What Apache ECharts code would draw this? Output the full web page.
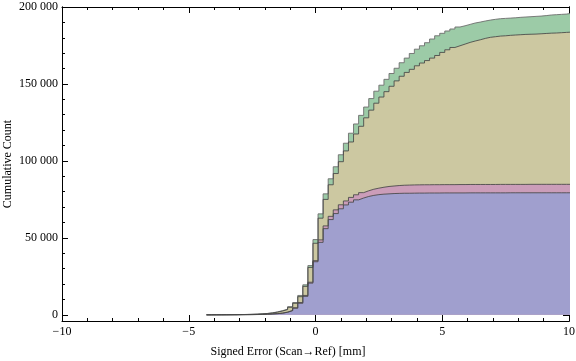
<!DOCTYPE html>
<html>
<head>
<meta charset="utf-8">
<script src="https://cdn.jsdelivr.net/npm/echarts@6/dist/echarts.min.js"></script>
<style>
html,body{margin:0;padding:0;background:#fff;}
#chart{width:576px;height:361px;}
</style>
</head>
<body>
<div id="chart"></div>
<script>
// Left edges of histogram bins (mm), bin width 0.2
var binEdges = [-4.3,-4.1,-3.9,-3.7,-3.5,-3.3,-3.1,-2.9,-2.7,-2.5,-2.3,-2.1,-1.9,-1.7,-1.5,-1.3,-1.1,-0.9,-0.7,-0.5,-0.3,-0.1,0.1,0.3,0.5,0.7,0.9,1.1,1.3,1.5,1.7,1.9,2.1,2.3,2.5,2.7,2.9,3.1,3.3,3.5,3.7,3.9,4.1,4.3,4.5,4.7,4.9,5.1,5.3,5.5,5.7,5.9,6.1,6.3,6.5,6.7,6.9,7.1,7.3,7.5,7.7,7.9,8.1,8.3,8.5,8.7,8.9,9.1,9.3,9.5,9.7,9.9];
var lastEdge = 10.1;

var greenValues = [30,50,70,90,120,150,200,260,350,480,650,900,1300,1900,2700,3700,5300,
  8000,12600,19500,32000,48900,65600,78600,88400,96200,104000,111500,118000,124000,129600,135000,140500,145300,149200,153000,156800,160200,163800,166800,169800,172600,174800,176800,179200,181300,182900,184400,185700,187000,187800,188700,189600,190200,190900,191500,192000,192400,192600,192800,193000,193300,193500,193700,193900,194100,194400,194800,195000,195200,195400,195900];

var oliveValues = [25,45,65,85,110,140,185,240,320,440,600,830,1200,1750,2500,3400,4900,
  7500,11800,18500,30800,46500,62800,75000,84500,91800,99500,106500,112300,117500,122500,128000,133000,137500,141500,145000,148500,152000,155000,157500,159500,161800,163600,165200,166800,168500,170500,172200,173700,174800,175900,177000,177900,178700,179600,180300,180700,181100,181300,181600,181800,182000,182200,182300,182400,182600,182800,183000,183100,183300,183500,183700];

var pinkValues = [10,20,30,40,55,70,95,125,170,230,320,450,620,850,1150,1800,2900,
  4600,8000,12600,21200,35200,48700,57800,64000,68200,71500,74000,76300,78000,79400,80600,81600,82300,82900,83400,83700,84000,84200,84300,84400,84450,84500,84500,84550,84550,84600,84600,84600,84650,84650,84700,84700,84700,84700,84700,84700,84750,84750,84750,84750,84750,84750,84800,84800,84800,84800,84800,84800,84800,84800,84800];

var blueValues = [8,15,25,35,45,60,80,105,140,190,270,380,530,750,1050,1650,2700,
  4300,7500,12000,20600,34500,47100,56000,61900,65800,68900,71400,73200,74700,75900,76900,77600,78100,78400,78600,78800,78900,79000,79000,79050,79100,79100,79150,79150,79150,79200,79200,79200,79200,79200,79250,79250,79250,79250,79250,79250,79250,79250,79300,79300,79300,79300,79300,79300,79300,79300,79300,79300,79300,79300,79300];

var xTicks = [-10,-5,0,5,10];
var yTicks = [0,50000,100000,150000,200000];
var yMinorTicks = [10000,20000,30000,40000,60000,70000,80000,90000,110000,120000,130000,140000,160000,170000,180000,190000];

var xTitle = 'Signed Error (Scan\u2192Ref) [mm]';
var yTitle = 'Cumulative Count';

function stepData(vals){
  var d = [[binEdges[0], 0]];
  for (var i = 0; i < binEdges.length; i++) d.push([binEdges[i], vals[i]]);
  d.push([lastEdge, vals[vals.length-1]]);
  return d;
}

var FONT = 'Liberation Serif';
var chart = echarts.init(document.getElementById('chart'), null, {renderer:'canvas'});

function mkSeries(name, vals, fill, line){
  return {
    name: name, type:'line', step:'end', xAxisIndex:0, yAxisIndex:0,
    data: stepData(vals), symbol:'none', clip:true,
    lineStyle:{color:line, width:1},
    areaStyle:{color:fill, opacity:1},
    emphasis:{disabled:true}
  };
}

var axisLine = {show:true, onZero:false, lineStyle:{color:'#000', width:1}};

function fmtNum(v){
  var s = String(Math.abs(v));
  s = s.replace(/\B(?=(\d{3})+(?!\d))/g, ' ');
  return (v < 0 ? '\u2212' : '') + s;
}

var option = {
  animation:false,
  backgroundColor:'#fff',
  grid:{left:62, right:7, top:7, bottom:40, containLabel:false, outerBoundsMode:'none'},
  xAxis:[
    {type:'value', position:'bottom', min:-10, max:10, interval:5,
     axisLine:axisLine,
     axisTick:{show:true, inside:true, length:6, lineStyle:{color:'#000'}},
     minorTick:{show:true, splitNumber:5, length:3, lineStyle:{color:'#000'}},
     splitLine:{show:false}, minorSplitLine:{show:false},
     axisLabel:{margin:5, color:'#000', fontFamily:FONT, fontSize:12, formatter:fmtNum}},
    {type:'value', position:'top', min:-10, max:10, interval:5,
     axisLine:axisLine,
     axisTick:{show:true, inside:true, length:6, lineStyle:{color:'#000'}},
     minorTick:{show:true, splitNumber:5, length:3, lineStyle:{color:'#000'}},
     splitLine:{show:false}, axisLabel:{show:false}}
  ],
  yAxis:[
    {type:'value', position:'left', min:-4000, max:200000,
     axisLine:axisLine,
     axisTick:{show:true, inside:true, length:6, customValues:yTicks, lineStyle:{color:'#000'}},
     splitLine:{show:false},
     axisLabel:{margin:4, color:'#000', fontFamily:FONT, fontSize:12, customValues:yTicks, formatter:fmtNum}},
    {type:'value', position:'left', min:-4000, max:200000, offset:0,
     axisLine:axisLine,
     axisTick:{show:true, inside:true, length:3, customValues:yMinorTicks, lineStyle:{color:'#000'}},
     splitLine:{show:false}, axisLabel:{show:false}},
    {type:'value', position:'right', min:-4000, max:200000, offset:0,
     axisLine:axisLine,
     axisTick:{show:true, inside:true, length:6, customValues:yTicks, lineStyle:{color:'#000'}},
     splitLine:{show:false}, axisLabel:{show:false}},
    {type:'value', position:'right', min:-4000, max:200000, offset:0,
     axisLine:axisLine,
     axisTick:{show:true, inside:true, length:3, customValues:yMinorTicks, lineStyle:{color:'#000'}},
     splitLine:{show:false}, axisLabel:{show:false}}
  ],
  graphic:[
    {type:'text', left:'center', top:346,
     style:{text:xTitle, fill:'#000', font:'12px "Liberation Serif"'},
     x:-6},
    {type:'text', x:8, y:164, rotation:Math.PI/2,
     style:{text:yTitle, fill:'#000', font:'12px "Liberation Serif"', align:'center', verticalAlign:'middle'}}
  ],
  series:[
    mkSeries('Total', greenValues, '#9ccba7', 'rgba(110,110,110,0.9)'),
    mkSeries('B', oliveValues, '#ccc8a1', 'rgba(70,70,70,0.85)'),
    mkSeries('C', pinkValues, '#cb9db9', 'rgba(70,70,70,0.85)'),
    mkSeries('D', blueValues, '#a09fce', 'rgba(70,70,70,0.85)')
  ]
};
chart.setOption(option);
</script>
</body>
</html>
